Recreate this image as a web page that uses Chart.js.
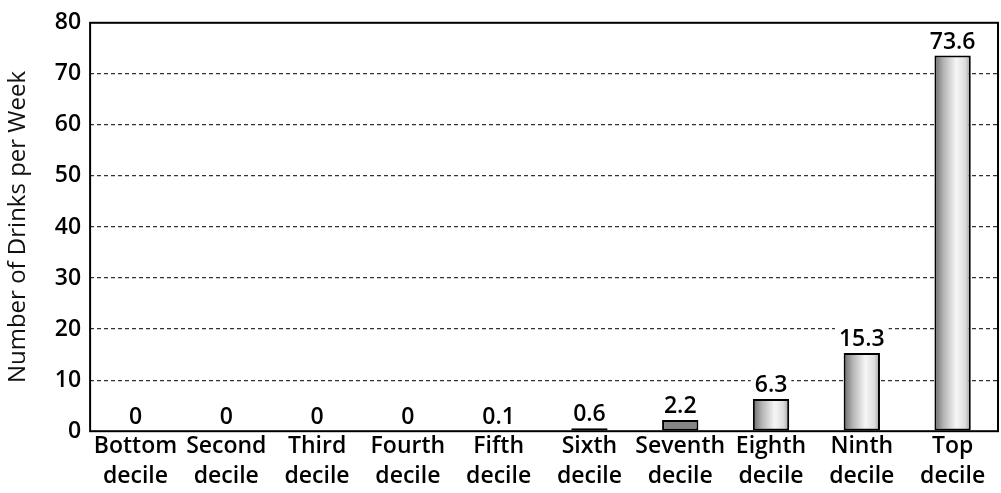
<!DOCTYPE html>
<html>
<head>
<meta charset="utf-8">
<script src="https://cdn.jsdelivr.net/npm/chart.js@4.4.0/dist/chart.umd.min.js"></script>
<style>
html,body{margin:0;padding:0;background:#fff;}
#wrap{width:1001px;height:493px;position:relative;}
</style>
</head>
<body>
<div id="wrap"><canvas id="c" width="1001" height="493"></canvas></div>
<script>
const categories = [
  ['Bottom','decile'], ['Second','decile'], ['Third','decile'], ['Fourth','decile'],
  ['Fifth','decile'], ['Sixth','decile'], ['Seventh','decile'], ['Eighth','decile'],
  ['Ninth','decile'], ['Top','decile']
];
const drinksPerWeek = [0, 0, 0, 0, 0.1, 0.6, 2.2, 6.3, 15.3, 73.6];
const valueLabels = ['0','0','0','0','0.1','0.6','2.2','6.3','15.3','73.6'];
const yTicks = [0, 10, 20, 30, 40, 50, 60, 70, 80];
const yTitle = 'Number of Drinks per Week';

const FONT = "'Open Sans', 'DejaVu Sans', sans-serif";
const BAR_PCT = 0.4;

function barFill(c) {
  const chart = c.chart;
  const xs = chart.scales.x;
  const a = chart.chartArea;
  if (!xs || !a || c.dataIndex === undefined) return '#ccc';
  if (c.dataIndex === 6) return '#858585';
  const cx = xs.getPixelForValue(c.dataIndex);
  const w = (a.right - a.left) / categories.length * BAR_PCT;
  const g = chart.ctx.createLinearGradient(cx - w / 2, 0, cx + w / 2, 0);
  g.addColorStop(0, '#6a6a6a');
  g.addColorStop(0.25, '#b4b4b4');
  g.addColorStop(0.6, '#f6f6f6');
  g.addColorStop(0.85, '#dcdcdc');
  g.addColorStop(1, '#999999');
  return g;
}

const labelPlugin = {
  id: 'valueLabels',
  afterDatasetsDraw(chart) {
    const ctx = chart.ctx;
    ctx.save();
    ctx.font = '600 23px ' + FONT;
    ctx.textAlign = 'center';
    ctx.textBaseline = 'bottom';
    chart.getDatasetMeta(0).data.forEach((el, i) => {
      const txt = valueLabels[i];
      const tw = ctx.measureText(txt).width;
      const yb = el.y - 4;
      ctx.fillStyle = '#fff';
      ctx.fillRect(el.x - tw / 2 - 4, yb - 22, tw + 8, 20);
      ctx.fillStyle = '#000';
      ctx.fillText(txt, el.x, yb + 2);
    });
    ctx.restore();
  }
};

const framePlugin = {
  id: 'frame',
  afterDraw(chart) {
    const a = chart.chartArea;
    const ctx = chart.ctx;
    ctx.save();
    ctx.strokeStyle = '#000';
    ctx.lineWidth = 2;
    ctx.strokeRect(a.left, a.top, a.right - a.left, a.bottom - a.top);
    ctx.restore();
  }
};

new Chart(document.getElementById('c'), {
  type: 'bar',
  data: {
    labels: categories,
    datasets: [{
      data: drinksPerWeek,
      backgroundColor: barFill,
      borderColor: '#000',
      borderWidth: 2,
      borderSkipped: false,
      barPercentage: BAR_PCT,
      categoryPercentage: 1.0
    }]
  },
  options: {
    responsive: false,
    animation: false,
    devicePixelRatio: 1,
    layout: { padding: { left: 4, right: 3, top: 4, bottom: 2 } },
    plugins: { legend: { display: false }, tooltip: { enabled: false }, title: { display: false } },
    scales: {
      x: {
        grid: { display: false, drawTicks: false },
        border: { display: false },
        ticks: {
          color: '#000',
          font: { family: FONT, size: 23, weight: '600', lineHeight: 1.3 },
          padding: 0,
          maxRotation: 0,
          autoSkip: false
        }
      },
      y: {
        min: 0, max: 80,
        afterBuildTicks(axis) { axis.ticks = yTicks.map(v => ({ value: v })); },
        grid: {
          drawTicks: false,
          color: (c) => (c.tick && (c.tick.value === 0 || c.tick.value === 80)) ? 'rgba(0,0,0,0)' : '#333',
          lineWidth: 1.3
        },
        border: { display: false, dash: [4, 3] },
        ticks: {
          color: '#000',
          font: { family: FONT, size: 23, weight: '600' },
          padding: 9
        },
        title: {
          display: true,
          text: yTitle,
          color: '#111',
          font: { family: FONT, size: 24, weight: '400' },
          padding: { top: 0, bottom: 13 }
        }
      }
    }
  },
  plugins: [labelPlugin, framePlugin]
});
</script>
</body>
</html>
